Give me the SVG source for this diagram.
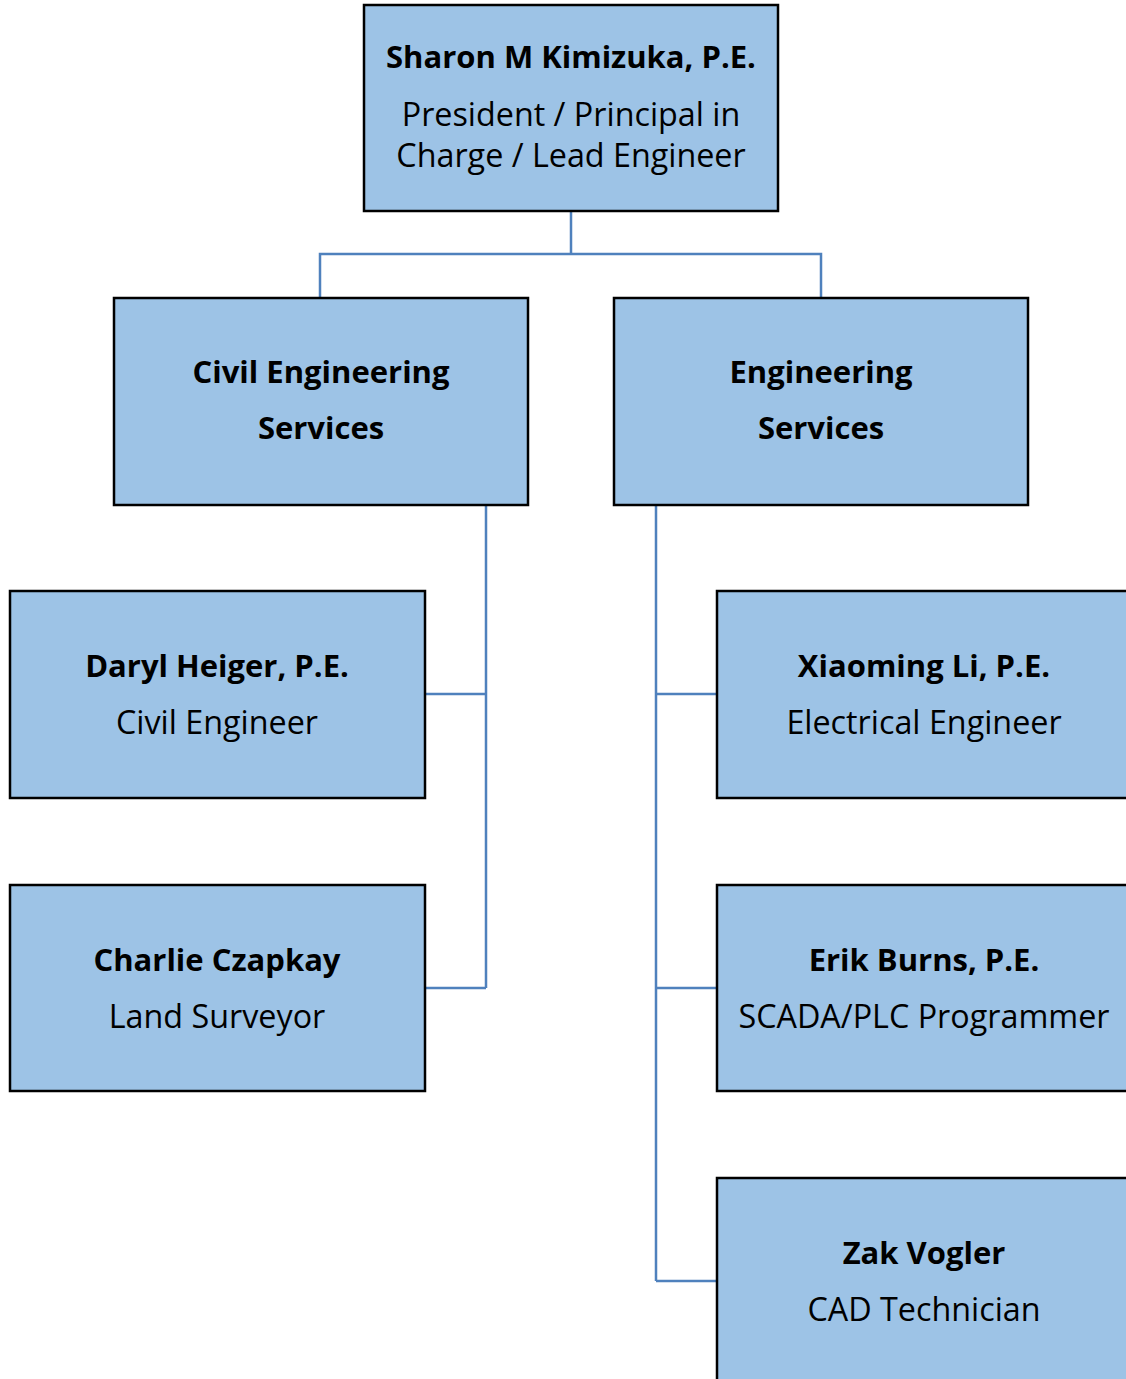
<svg xmlns="http://www.w3.org/2000/svg" width="1126" height="1379" viewBox="0 0 1126 1379">
<style>
.box{fill:#9dc3e6;stroke:#000;stroke-width:2.5}
.link{fill:none;stroke:#4f81bd;stroke-width:2.5}
text{font-family:"Open Sans","Noto Sans",sans-serif;font-size:32.3px;fill:#000;text-anchor:middle}
.b{font-weight:bold;font-size:31px}
</style>
<rect width="1126" height="1379" fill="#fff"/>
<g id="connectors">
<path class="link" d="M571 211V254M320 298V254H821V298"/>
<path class="link" d="M486 505V988M425 694H486M425 988H486"/>
<path class="link" d="M656 505V1281M656 694H717M656 988H717M656 1281H717"/>
</g>
<g id="n-sharon">
<rect class="box" x="364" y="5" width="414" height="206"/>
<text class="b" x="571" y="68">Sharon M Kimizuka, P.E.</text>
<text x="571" y="126">President / Principal in</text>
<text x="571" y="167">Charge / Lead Engineer</text>
</g>
<g id="n-civil">
<rect class="box" x="114" y="298" width="414" height="207"/>
<text class="b" x="321" y="383">Civil Engineering</text>
<text class="b" x="321" y="439">Services</text>
</g>
<g id="n-eng">
<rect class="box" x="614" y="298" width="414" height="207"/>
<text class="b" x="821" y="383">Engineering</text>
<text class="b" x="821" y="439">Services</text>
</g>
<g id="n-daryl">
<rect class="box" x="10" y="591" width="415" height="207"/>
<text class="b" x="217" y="677">Daryl Heiger, P.E.</text>
<text x="217" y="734">Civil Engineer</text>
</g>
<g id="n-charlie">
<rect class="box" x="10" y="885" width="415" height="206"/>
<text class="b" x="217" y="971">Charlie Czapkay</text>
<text x="217" y="1028">Land Surveyor</text>
</g>
<g id="n-xiaoming">
<rect class="box" x="717" y="591" width="414" height="207"/>
<text class="b" x="924" y="677">Xiaoming Li, P.E.</text>
<text x="924" y="734">Electrical Engineer</text>
</g>
<g id="n-erik">
<rect class="box" x="717" y="885" width="414" height="206"/>
<text class="b" x="924" y="971">Erik Burns, P.E.</text>
<text x="924" y="1028">SCADA/PLC Programmer</text>
</g>
<g id="n-zak">
<rect class="box" x="717" y="1178" width="414" height="210"/>
<text class="b" x="924" y="1264">Zak Vogler</text>
<text x="924" y="1321">CAD Technician</text>
</g>
</svg>
